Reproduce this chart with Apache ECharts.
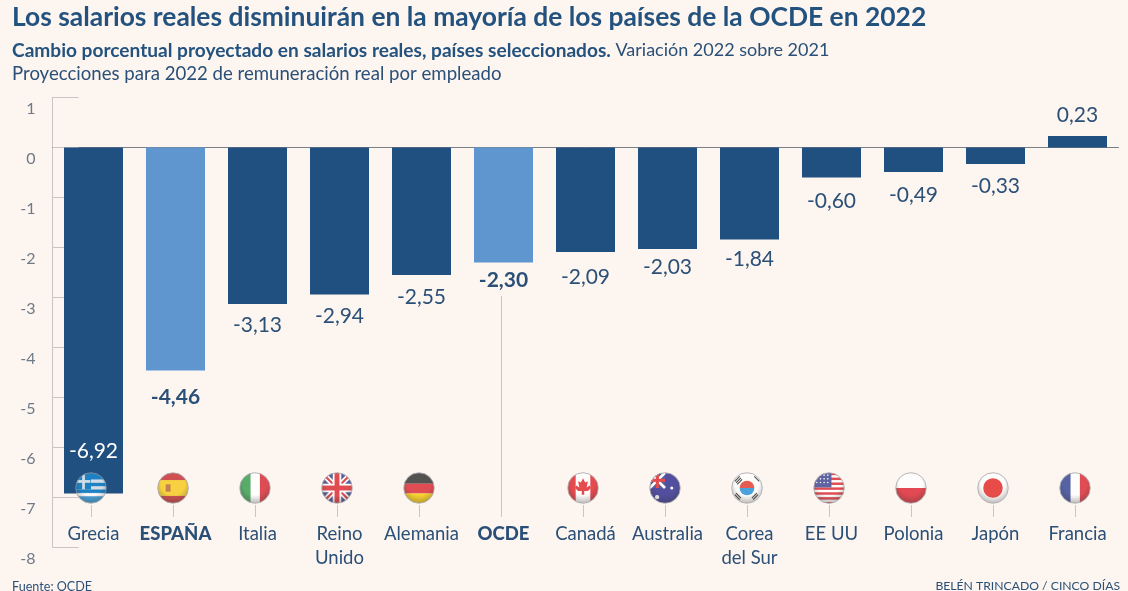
<!DOCTYPE html>
<html><head><meta charset="utf-8">
<style>html,body{margin:0;padding:0;background:#fdf5ef}#c{width:1128px;height:591px}</style>
<script src="https://cdn.jsdelivr.net/npm/echarts@6/dist/echarts.min.js"></script>
</head><body><div id="c"></div>
<script>
const categories=['Grecia','ESPAÑA','Italia','Reino\nUnido','Alemania','OCDE','Canadá','Australia','Corea\ndel Sur','EE UU','Polonia','Japón','Francia'];
const values=[-6.92,-4.46,-3.13,-2.94,-2.55,-2.30,-2.09,-2.03,-1.84,-0.60,-0.49,-0.33,0.23];
const highlighted=['ESPAÑA','OCDE'];
const flagCodes=['gr','es','it','uk','de',null,'ca','au','kr','us','pl','jp','fr'];
const labelGaps=[32,16,11,11,12,7,15,8,9,13,13,12,10];
const titleText='Los salarios reales disminuirán en la mayoría de los países de la OCDE en 2022';
const subtitleBold='Cambio porcentual proyectado en salarios reales, países seleccionados.';
const subtitleRegular=' Variación 2022 sobre 2021';
const noteText='Proyecciones para 2022 de remuneración real por empleado';
const sourceText='Fuente: OCDE';
const creditText='BELÉN TRINCADO / CINCO DÍAS';

const FONT='Lato';
const DARK='#20507f',LIGHT='#6096cf',INK='#2b5078',BG='#fdf5ef';
const r=(x,y,w,h,f)=>`<rect x="${x}" y="${y}" width="${w}" height="${h}" fill="${f}"/>`;
const flagArt={
 gr:r(0,0,100,100,'#1d8ed6')+[22,44,66].map(y=>r(0,y,100,11,'#fff')).join('')+r(0,0,50,55,'#1d8ed6')+r(21,4,9,50,'#fff')+r(4,24,44,9,'#fff'),
 es:r(0,0,100,100,'#c3272b')+r(0,24,100,52,'#f6c915')+r(26,38,16,24,'#b5632a'),
 it:r(0,0,36,100,'#2f9a48')+r(36,0,30,100,'#fff')+r(66,0,34,100,'#d6232c'),
 uk:r(0,0,100,100,'#2d3a86')+'<path d="M0 0L100 100M100 0L0 100" stroke="#fff" stroke-width="18"/><path d="M0 0L100 100M100 0L0 100" stroke="#d8232c" stroke-width="7"/>'+r(36,0,28,100,'#fff')+r(0,36,100,28,'#fff')+r(42,0,16,100,'#d8232c')+r(0,42,100,16,'#d8232c'),
 de:r(0,0,100,36,'#2a2a2a')+r(0,36,100,32,'#d8232c')+r(0,68,100,32,'#f7c900'),
 ca:r(0,0,100,100,'#fff')+r(0,0,26,100,'#df2027')+r(74,0,26,100,'#df2027')+'<path d="M50 18L57 32L66 28L62 48L72 42L76 50L66 60H54V72H46V60H34L24 50L28 42L38 48L34 28L43 32Z" fill="#df2027"/>',
 au:r(0,0,100,100,'#27268a')+r(0,0,50,50,'#2d3a86')+'<path d="M0 0L50 50M50 0L0 50" stroke="#fff" stroke-width="9"/>'+r(20,0,10,50,'#df2027')+r(0,20,50,10,'#df2027')+'<circle cx="24" cy="80" r="7" fill="#fff"/><circle cx="72" cy="50" r="5" fill="#fff"/>',
 kr:r(0,0,100,100,'#fff')+'<path d="M26 50A24 24 0 0 1 74 50Z" fill="#e0362c"/><path d="M26 50A24 24 0 0 0 74 50Z" fill="#1d8ed6"/>'+'<path d="M10 28L26 12M14 33L30 17M18 38L34 22M70 88L86 72M66 83L82 67M74 12L90 28M10 72L26 88M14 67L30 83" stroke="#222" stroke-width="3.5"/>',
 us:r(0,0,100,100,'#fff')+[0,16,32,48,64,80,96].map(y=>r(0,y,100,8,'#d8232c')).join('')+r(0,0,58,48,'#3a3f8f')+[8,20,32].map(y=>[10,22,34,46].map(x=>`<circle cx="${x}" cy="${y}" r="2.6" fill="#fff"/>`).join('')).join(''),
 pl:r(0,0,100,50,'#fff')+r(0,50,100,50,'#dc1f2c'),
 jp:r(0,0,100,100,'#fff')+'<circle cx="50" cy="50" r="32" fill="#e4231f"/>',
 fr:r(0,0,36,100,'#2c3f92')+r(36,0,30,100,'#fff')+r(66,0,34,100,'#d8232c')
};
const flagUri=c=>{
 const svg=`<svg xmlns="http://www.w3.org/2000/svg" width="120" height="120" viewBox="-4 -4 108 108"><defs><clipPath id="k"><circle cx="50" cy="50" r="50"/></clipPath><radialGradient id="g" cx="50%" cy="35%" r="70%"><stop offset="0.55" stop-color="#000" stop-opacity="0"/><stop offset="1" stop-color="#000" stop-opacity="0.38"/></radialGradient></defs><g clip-path="url(#k)">${flagArt[c]}<circle cx="50" cy="50" r="50" fill="url(#g)"/></g><circle cx="50" cy="50" r="50" fill="none" stroke="#9a9da3" stroke-width="3"/></svg>`;
 return 'image://data:image/svg+xml;charset=utf-8,'+encodeURIComponent(svg);
};
const fmt=v=>String(v.toFixed(2)).replace('.',',');
const isHi=n=>highlighted.includes(n);

const chart=echarts.init(document.getElementById('c'));
chart.setOption({
 backgroundColor:BG,animation:false,
 textStyle:{fontFamily:FONT},
 title:[
  {text:titleText,left:12,top:4,padding:0,textStyle:{fontFamily:FONT,fontSize:26.4,fontWeight:700,color:'#24527f'}},
  {text:`{b|${subtitleBold}}{n|${subtitleRegular}}`,left:12,top:41,padding:0,textStyle:{fontWeight:400,rich:{
    b:{fontFamily:FONT,fontSize:19.1,fontWeight:700,color:'#24527f'},
    n:{fontFamily:FONT,fontSize:18,fontWeight:400,color:INK}}}},
  {text:noteText,left:12,top:64,padding:0,textStyle:{fontFamily:FONT,fontSize:18.6,fontWeight:400,color:INK}},
  {text:sourceText,left:12,top:580,padding:0,textStyle:{fontFamily:FONT,fontSize:12.6,fontWeight:400,color:INK}},
  {text:creditText,right:8,top:580,padding:0,textStyle:{fontFamily:FONT,fontSize:12.2,fontWeight:400,color:INK}}
 ],
 grid:{left:52.5,width:1066,top:97.5,height:450,containLabel:false},
 xAxis:[
  {type:'category',data:categories,position:'bottom',offset:-25,
   axisLine:{show:false,onZero:false},axisTick:{show:false},
   axisLabel:{interval:0,margin:0,lineHeight:24,verticalAlign:'top',color:INK,fontSize:18.5,
     formatter:n=>isHi(n)?`{b|${n}}`:n,
     rich:{b:{fontFamily:FONT,fontSize:18.5,fontWeight:900,color:INK,lineHeight:24}}}},
  {type:'category',data:categories,position:'top',
   axisLine:{show:true,onZero:true,lineStyle:{color:'#7b7f86',width:1}},axisTick:{show:false},axisLabel:{show:false}}
 ],
 yAxis:{type:'value',min:-8,max:1,interval:1,
  axisLine:{show:true,lineStyle:{color:'#c9c4c6',width:1}},
  axisTick:{show:true,inside:true,length:26,lineStyle:{color:'#c9c4c6',width:1}},
  splitLine:{show:false},
  axisLabel:{margin:17,color:'#6f7a88',fontSize:16,verticalAlign:'top',padding:[3,0,0,0]}},
 series:[
  {type:'custom',xAxisIndex:0,silent:true,z:1,
   data:categories.map((c,i)=>[i,c]),
   renderItem:(p,api)=>{
    const i=api.value(0),x=Math.round(api.coord([i,0])[0]-2.5)+0.5,hi=categories[i]==='OCDE';
    const y1=hi?296:505,y2=517;
    return {type:'line',shape:{x1:x,y1:y1,x2:x,y2:y2},style:{stroke:'#c9c4c6',lineWidth:1}};
   }},
  {type:'bar',xAxisIndex:0,barWidth:59,z:2,
   data:values.map((v,i)=>{
    const hi=isHi(categories[i]),first=i===0;
    return {value:v,itemStyle:{color:hi?LIGHT:DARK},
     label:{position:first?'insideBottom':(v>0?'top':'bottom'),distance:labelGaps[i],
       color:first?'#fff':INK,fontWeight:hi?700:400}};
   }),
   label:{show:true,fontSize:21,fontFamily:FONT,formatter:p=>fmt(p.value)}},
  {type:'scatter',xAxisIndex:0,z:5,silent:true,symbolSize:33,symbolOffset:[-2.5,0],
   data:flagCodes.map((c,i)=>c?{value:[i,-6.81],symbol:flagUri(c)}:null).filter(Boolean)}
 ]
});
</script></body></html>
